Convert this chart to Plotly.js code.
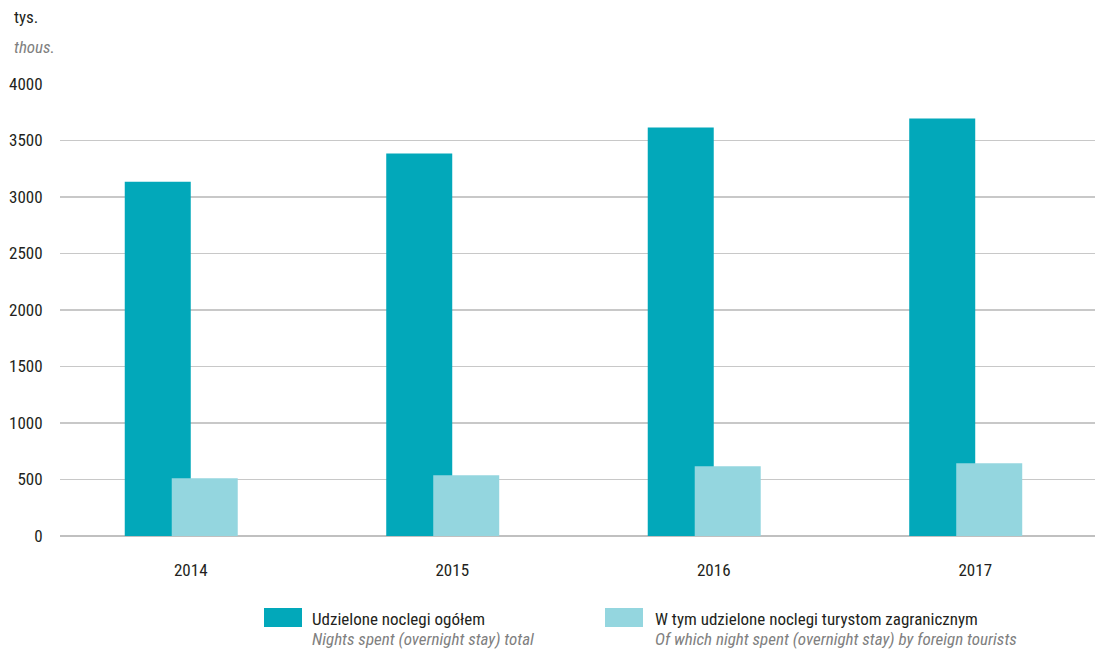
<!DOCTYPE html>
<html>
<head>
<meta charset="utf-8">
<script src="https://cdn.plot.ly/plotly-3.0.1.min.js"></script>
<style>html,body{margin:0;padding:0;background:#fff;}#chart{width:1107px;height:656px;}</style>
</head>
<body>
<div id="chart"></div>
<script>
// Data
var years = ['2014', '2015', '2016', '2017'];
var totalNights = [3136, 3384, 3615, 3695];
var foreignNights = [511, 537, 617, 644];
var seriesNamesPL = ['Udzielone noclegi ogółem', 'W tym udzielone noclegi turystom zagranicznym'];
var seriesNamesEN = ['Nights spent (overnight stay) total', 'Of which night spent (overnight stay) by foreign tourists'];
var yTicks = [0, 500, 1000, 1500, 2000, 2500, 3000, 3500, 4000];

var colDark = '#02a8ba';
var colLight = '#94d6df';
var FONT = '"Liberation Sans Narrow", "Arial Narrow", "Roboto Condensed", Roboto, sans-serif';

var W = 1107, H = 656;
var M = {l: 60, r: 12, t: 84, b: 120};
var pw = W - M.l - M.r, ph = H - M.t - M.b;
function px(x) { return (x - M.l) / pw; }
function py(y) { return (H - M.b - y) / ph; }

var traces = [
  {type: 'bar', x: years, y: totalNights, name: seriesNamesPL[0],
   marker: {color: colDark}, width: 0.2524, offset: -0.2524, hoverinfo: 'x+y'},
  {type: 'bar', x: years, y: foreignNights, name: seriesNamesPL[1],
   marker: {color: colLight}, width: 0.2524, offset: -0.0727, hoverinfo: 'x+y'}
];

var layout = {
  width: W, height: H,
  margin: M,
  paper_bgcolor: '#fff', plot_bgcolor: '#fff',
  barmode: 'overlay',
  showlegend: false,
  font: {family: FONT, size: 17, color: '#231f20'},
  xaxis: {
    type: 'category', range: [-0.5, 3.458],
    showgrid: false, zeroline: false, showline: false,
    ticks: 'outside', ticklen: 19, tickcolor: 'rgba(0,0,0,0)',
    tickfont: {family: FONT, size: 17, color: '#231f20'}
  },
  yaxis: {
    range: [0, 4000], tickvals: yTicks, ticktext: yTicks.map(String),
    showgrid: true, gridcolor: '#c8c8c8', gridwidth: 1.3,
    zeroline: true, zerolinecolor: '#c0c0c0', zerolinewidth: 2,
    showline: false,
    ticks: 'outside', ticklen: 13, tickcolor: 'rgba(0,0,0,0)',
    tickfont: {family: FONT, size: 17, color: '#231f20'}
  },
  annotations: [
    {xref: 'paper', yref: 'paper', x: px(12), y: py(17), xanchor: 'left', yanchor: 'middle',
     text: 'tys.', showarrow: false, font: {family: FONT, size: 17, color: '#231f20'}},
    {xref: 'paper', yref: 'paper', x: px(12), y: py(47), xanchor: 'left', yanchor: 'middle',
     text: '<i>thous.</i>', showarrow: false, font: {family: FONT, size: 17, color: '#808080'}},
    {xref: 'paper', yref: 'paper', x: px(310), y: py(619), xanchor: 'left', yanchor: 'middle',
     text: seriesNamesPL[0], showarrow: false, font: {family: FONT, size: 17, color: '#231f20'}},
    {xref: 'paper', yref: 'paper', x: px(310), y: py(639), xanchor: 'left', yanchor: 'middle',
     text: '<i>' + seriesNamesEN[0] + '</i>', showarrow: false, font: {family: FONT, size: 17, color: '#808080'}},
    {xref: 'paper', yref: 'paper', x: px(653), y: py(619), xanchor: 'left', yanchor: 'middle',
     text: seriesNamesPL[1], showarrow: false, font: {family: FONT, size: 17, color: '#231f20'}},
    {xref: 'paper', yref: 'paper', x: px(653), y: py(639), xanchor: 'left', yanchor: 'middle',
     text: '<i>' + seriesNamesEN[1] + '</i>', showarrow: false, font: {family: FONT, size: 17, color: '#808080'}}
  ],
  shapes: [
    {type: 'rect', xref: 'paper', yref: 'paper', x0: px(264), x1: px(302), y0: py(627), y1: py(608),
     fillcolor: colDark, line: {width: 0}},
    {type: 'rect', xref: 'paper', yref: 'paper', x0: px(605), x1: px(643), y0: py(627), y1: py(608),
     fillcolor: colLight, line: {width: 0}}
  ]
};

Plotly.newPlot('chart', traces, layout, {displayModeBar: false, staticPlot: true});
</script>
</body>
</html>
